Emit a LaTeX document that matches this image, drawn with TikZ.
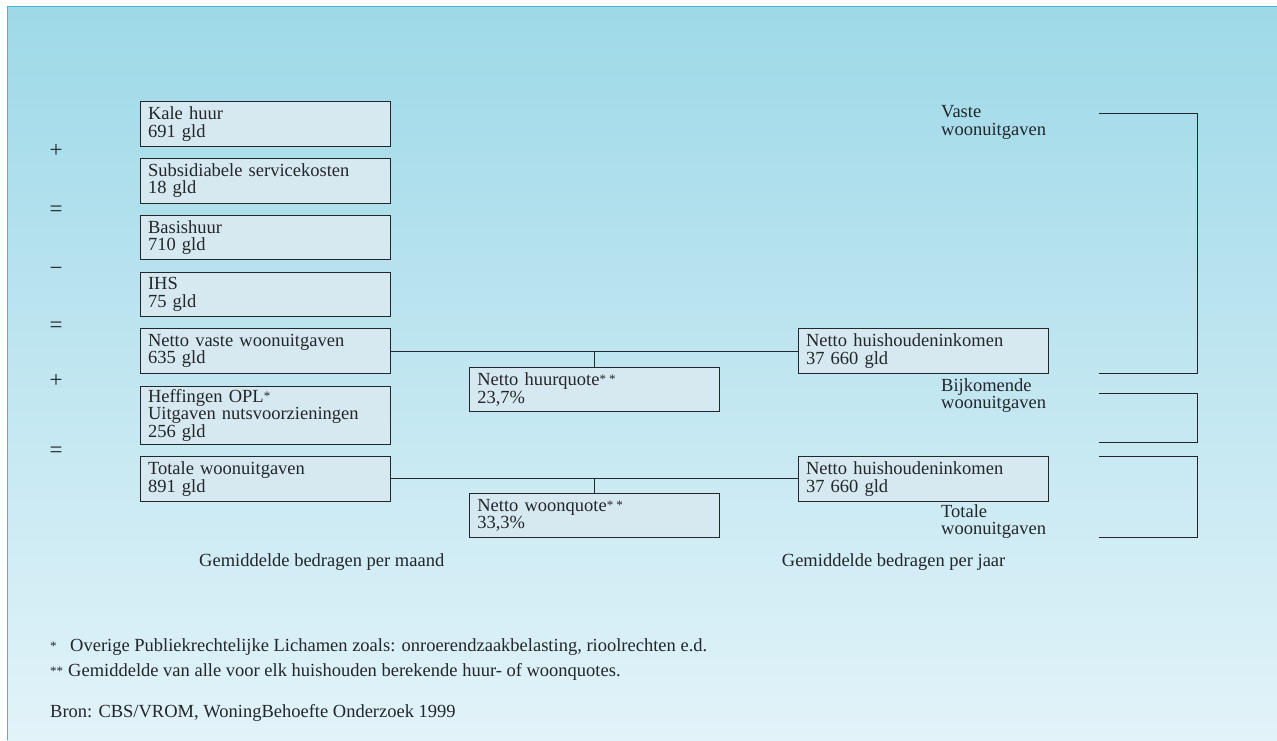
\documentclass[tikz,border=0pt]{standalone}
\usepackage{fontspec}
\setmainfont{Liberation Serif}
\usetikzlibrary{positioning}

\definecolor{bgtop}{RGB}{158,217,232}
\definecolor{bgbot}{RGB}{226,243,249}
\definecolor{boxfill}{RGB}{215,233,240}
\definecolor{framecol}{RGB}{64,182,212}
\definecolor{inkcol}{RGB}{35,38,42}

\tikzset{
	posten/.style={draw=inkcol, line width=1pt, fill=boxfill, text=inkcol, anchor=north west,
		outer sep=0pt, minimum height=44.5pt, text width=234pt, inner xsep=8pt, inner ysep=3.2pt, align=left},
	teken/.style={text=inkcol, inner sep=0pt, anchor=base, font=\fontsize{23}{23}\selectfont},
	tekst/.style={text=inkcol, inner sep=0pt, anchor=base west, align=left},
	verbind/.style={draw=inkcol, line width=1pt},
}
\newcommand{\ster}{\raisebox{2pt}{\fontsize{13}{13}\selectfont *}}
\newcommand{\voetster}{\raisebox{1pt}{\fontsize{13}{13}\selectfont *}}

\begin{document}
\begin{tikzpicture}[x=1pt, y=-1pt, font=\fontsize{18.5}{17.3}\selectfont]
			\useasboundingbox (0,0) rectangle (1277,740);
			\fill[white] (0,0) rectangle (1277,740);
			\shade[top color=bgtop, bottom color=bgbot] (7,6.5) rectangle (1277,740);
			\draw[framecol, line width=1.5pt] (7.7,740) -- (7.7,6.6) -- (1277,6.6);
			% maandbedragen
			\node[posten] (kale) at (140,101.7) {Kale huur\\691 gld};
			\node[posten, below=12.3pt of kale] (service) {Subsidiabele servicekosten\\18 gld};
			\node[posten, below=12.3pt of service] (basis) {Basishuur\\710 gld};
			\node[posten, below=12.3pt of basis] (ihs) {IHS\\75 gld};
			\node[posten, below=12.3pt of ihs] (nvw) {Netto vaste woonuitgaven\\635 gld};
			\node[posten, below=13pt of nvw] (heff) {Heffingen OPL\ster\\Uitgaven nutsvoorzieningen\\256 gld};
			\node[posten, below=12.3pt of heff] (totaal) {Totale woonuitgaven\\891 gld};
			\foreach \s/\y [count=\i] in {+/151.7, =/210.7, −/269, =/326.7, +/381, =/451.7}
				\node[teken] (op\i) at (56,\y+6) {\s};
			% jaarbedragen en quotes
			\node[posten, right=408pt of nvw] (nhi1) {Netto huishoudeninkomen\\37 660 gld};
			\node[posten, right=408pt of totaal] (nhi2) {Netto huishoudeninkomen\\37 660 gld};
			\node[posten] (huurq) at (469.3,367.3) {Netto huurquote\ster\,\ster\\23,7\%};
			\node[posten] (woonq) at (469.3,493.3) {Netto woonquote\ster\,\ster\\33,3\%};
			\draw[verbind] (nvw) -- (nhi1);
			\draw[verbind] (totaal) -- (nhi2);
			\draw[verbind] (huurq.north) -- (huurq.north |- nvw.east);
			\draw[verbind] (woonq.north) -- (woonq.north |- totaal.east);
			% haken rechts
			\node[tekst] (vaste) at (941,135) {Vaste\\woonuitgaven};
			\node[tekst] (bijk) at (941,408.3) {Bijkomende\\woonuitgaven};
			\node[tekst] (totw) at (941,534.3) {Totale\\woonuitgaven};
			\foreach \a/\b [count=\i] in {113.7/373.3, 393.3/442.3, 456.7/537.3} {
				\coordinate (ht\i) at (1099,\a);
				\coordinate (hb\i) at (1099,\b);
				\draw[verbind] (ht\i) -- ++(98.7,0) |- (hb\i);
			}
			\node[tekst] (maand) at (199,566) {Gemiddelde bedragen per maand};
			\node[tekst] (jaar) at (781.7,566) {Gemiddelde bedragen per jaar};
			% voetnoten
			\node[tekst] (voet1) at (50,651.7) {\makebox[20pt][l]{\voetster}Overige Publiekrechtelijke Lichamen zoals: onroerendzaakbelasting, rioolrechten e.d.};
			\node[tekst] (voet2) at (50,676.7) {\makebox[18pt][l]{\voetster\voetster}Gemiddelde van alle voor elk huishouden berekende huur- of woonquotes.};
			\node[tekst] (bron) at (50,717) {Bron: CBS/VROM, WoningBehoefte Onderzoek 1999};
		\end{tikzpicture}
\end{document}
